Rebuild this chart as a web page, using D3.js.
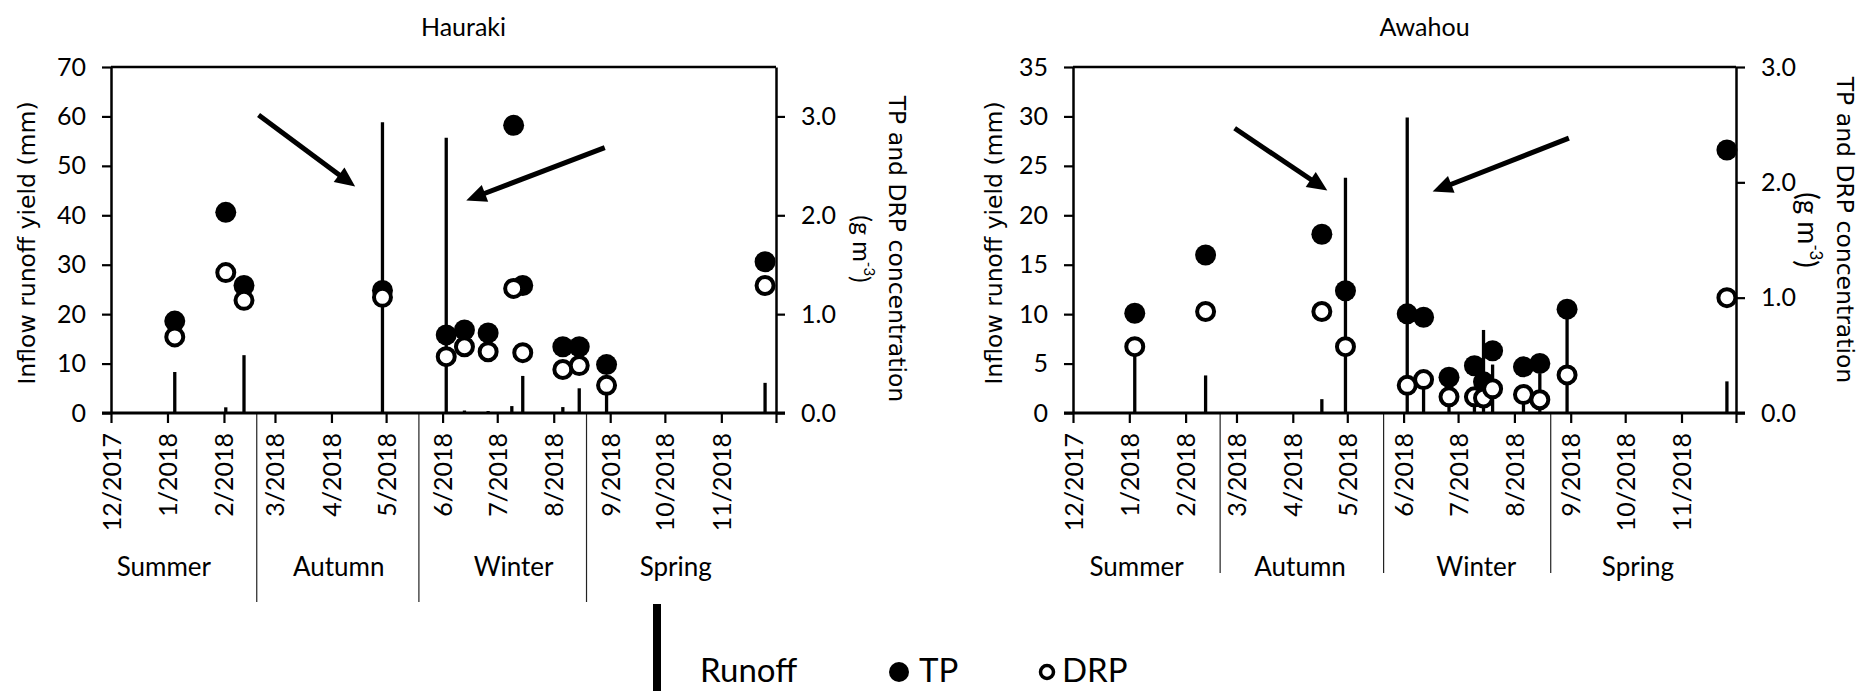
<!DOCTYPE html>
<html>
<head>
<meta charset="utf-8">
<script src="https://cdn.jsdelivr.net/npm/d3@7"></script>
<style>
  body { margin: 0; background: #fff; }
  svg { display: block; font-family: Lato, sans-serif; }
</style>
</head>
<body>
<svg id="chart" width="1863" height="691"></svg>
<script>
const parse = d3.timeParse("%Y-%m-%d")

const yearStart = "2017-12-01"
const yearEnd = "2018-12-01"
const seasons = ["Summer", "Autumn", "Winter", "Spring"]

// Hauraki
const haurakiSampleDates = ["2018-01-05", "2018-02-02", "2018-02-12", "2018-04-29", "2018-06-03", "2018-06-13", "2018-06-26", "2018-07-10", "2018-07-15", "2018-08-06", "2018-08-15", "2018-08-30", "2018-11-25"]
const haurakiTP = [0.93, 2.03, 1.29, 1.24, 0.79, 0.84, 0.81, 2.91, 1.29, 0.67, 0.67, 0.49, 1.53]
const haurakiDRP = [0.77, 1.42, 1.14, 1.17, 0.57, 0.67, 0.62, 1.26, 0.61, 0.44, 0.48, 0.28, 1.29]
const haurakiRunoffDates = ["2018-01-05", "2018-02-02", "2018-02-12", "2018-04-29", "2018-06-03", "2018-06-13", "2018-06-26", "2018-07-09", "2018-07-15", "2018-08-06", "2018-08-15", "2018-08-30", "2018-11-25"]
const haurakiRunoff = [8.3, 1.15, 11.7, 58.8, 55.7, 0.5, 0.4, 1.4, 7.5, 1.2, 5.0, 4.0, 6.1]
const haurakiSeasonBreaks = ["2018-02-19", "2018-05-19", "2018-08-19"]
const haurakiSeasonCentres = ["2017-12-30", "2018-04-05", "2018-07-10", "2018-10-07"]
// [start date, start mm, tip date, tip mm]
const haurakiArrows = [["2018-02-20", 60.3, "2018-04-14", 45.8], ["2018-08-29", 53.7, "2018-06-14", 43.0]]

// Awahou
const awahouSampleDates = ["2018-01-04", "2018-02-12", "2018-04-17", "2018-04-30", "2018-06-03", "2018-06-12", "2018-06-26", "2018-07-10", "2018-07-15", "2018-07-20", "2018-08-06", "2018-08-15", "2018-08-30", "2018-11-26"]
const awahouTP = [0.865, 1.37, 1.55, 1.06, 0.86, 0.83, 0.31, 0.41, 0.27, 0.54, 0.40, 0.43, 0.90, 2.28]
const awahouDRP = [0.575, 0.88, 0.88, 0.575, 0.24, 0.29, 0.14, 0.14, 0.13, 0.21, 0.16, 0.115, 0.33, 1.0]
const awahouRunoffDates = ["2018-01-04", "2018-02-12", "2018-04-17", "2018-04-30", "2018-06-03", "2018-06-12", "2018-06-26", "2018-07-10", "2018-07-15", "2018-07-20", "2018-08-06", "2018-08-15", "2018-08-30", "2018-11-26"]
const awahouRunoff = [6.5, 3.8, 1.4, 23.8, 29.9, 3.0, 1.5, 1.5, 8.4, 4.9, 1.8, 4.0, 10.5, 3.2]
const awahouSeasonBreaks = ["2018-02-20", "2018-05-21", "2018-08-21"]
const awahouSeasonCentres = ["2018-01-05", "2018-04-05", "2018-07-11", "2018-10-08"]
const awahouArrows = [["2018-02-28", 28.8, "2018-04-20", 22.5], ["2018-08-31", 27.8, "2018-06-17", 22.4]]

const plotTop = 67
const plotBottom = 413

const svg = d3.select("#chart")
svg.append("rect").attr("width", 1863).attr("height", 691).attr("fill", "#fff")

const drawPanel = cfg => {
  const g = svg.append("g").attr("class", cfg.name)

  const x = d3.scaleTime().domain([parse(yearStart), parse(yearEnd)]).range([cfg.left, cfg.right])
  const yL = d3.scaleLinear().domain([0, cfg.runoffMax]).range([plotBottom, plotTop])
  const yR = d3.scaleLinear().domain([0, cfg.concMax]).range([plotBottom, plotTop])

  // season dividers under the axis
  g.selectAll(".divider")
    .data(cfg.breaks.map(parse))
    .enter()
    .append("line")
    .attr("x1", d => x(d)).attr("x2", d => x(d))
    .attr("y1", plotBottom).attr("y2", cfg.dividerBottom)
    .attr("stroke", "#222").attr("stroke-width", 1.2)

  g.selectAll(".season")
    .data(seasons)
    .enter()
    .append("text")
    .attr("x", (d, i) => x(parse(cfg.seasonCentres[i])))
    .attr("y", 576)
    .attr("text-anchor", "middle")
    .attr("font-size", 26)
    .text(d => d)

  // runoff bars
  const runoff = cfg.runoffDates.map((d, i) => ({ date: parse(d), v: cfg.runoff[i] }))
  g.selectAll(".runoff")
    .data(runoff)
    .enter()
    .append("line")
    .attr("x1", d => x(d.date)).attr("x2", d => x(d.date))
    .attr("y1", yL(0)).attr("y2", d => yL(d.v))
    .attr("stroke", "#000").attr("stroke-width", 3.3)

  const samples = cfg.dates.map((d, i) => ({ date: parse(d), tp: cfg.tp[i], drp: cfg.drp[i] }))
  g.selectAll(".tp")
    .data(samples)
    .enter()
    .append("circle")
    .attr("cx", d => x(d.date)).attr("cy", d => yR(d.tp))
    .attr("r", 10.5).attr("fill", "#000")
  g.selectAll(".drp")
    .data(samples)
    .enter()
    .append("circle")
    .attr("cx", d => x(d.date)).attr("cy", d => yR(d.drp))
    .attr("r", 8.5).attr("fill", "#fff").attr("stroke", "#000").attr("stroke-width", 4)

  // arrows
  cfg.arrows.forEach(a => {
    const x1 = x(parse(a[0])), y1 = yL(a[1]), x2 = x(parse(a[2])), y2 = yL(a[3])
    const ang = Math.atan2(y2 - y1, x2 - x1)
    const len = 20, half = 9
    const bx = x2 - len * Math.cos(ang), by = y2 - len * Math.sin(ang)
    g.append("line")
      .attr("x1", x1).attr("y1", y1).attr("x2", bx + 2 * Math.cos(ang)).attr("y2", by + 2 * Math.sin(ang))
      .attr("stroke", "#000").attr("stroke-width", 5)
    g.append("path")
      .attr("d", `M${x2},${y2}L${bx - half * Math.sin(ang)},${by + half * Math.cos(ang)}L${bx + half * Math.sin(ang)},${by - half * Math.cos(ang)}Z`)
      .attr("fill", "#000")
  })

  // box top
  g.append("line")
    .attr("x1", cfg.left).attr("x2", cfg.right)
    .attr("y1", plotTop).attr("y2", plotTop)
    .attr("stroke", "#000").attr("stroke-width", 2.5)

  const styleAxis = (sel, width) => {
    sel.select(".domain").attr("stroke-width", width)
    sel.selectAll(".tick line").attr("stroke-width", 2.2)
    sel.selectAll("text").attr("font-family", "Lato, sans-serif").attr("font-size", 25).attr("fill", "#000")
  }

  const leftAxis = d3.axisLeft(yL).tickValues(cfg.runoffTicks).tickSize(9).tickSizeOuter(0).tickPadding(16)
  g.append("g").attr("transform", `translate(${cfg.left},0)`).call(leftAxis).call(s => styleAxis(s, 2.5))

  const rightAxis = d3.axisRight(yR).tickValues(cfg.concTicks).tickFormat(d3.format(".1f")).tickSize(9).tickSizeOuter(0).tickPadding(16)
  g.append("g").attr("transform", `translate(${cfg.right},0)`).call(rightAxis).call(s => styleAxis(s, 2.5))

  const months = d3.timeMonth.range(parse(yearStart), d3.timeDay.offset(parse(yearEnd), 1))
  const monthFmt = d => (+d >= +parse(yearEnd) ? "" : `${d.getMonth() + 1}/${d.getFullYear()}`)
  const bottomAxis = d3.axisBottom(x).tickValues(months).tickFormat(monthFmt).tickSize(10).tickSizeOuter(0)
  const xg = g.append("g").attr("transform", `translate(0,${plotBottom})`).call(bottomAxis).call(s => styleAxis(s, 3.2))
  xg.select(".domain").attr("d", `M${cfg.left - 9},0H${cfg.right + 9}`)
  xg.selectAll(".tick text")
    .attr("text-anchor", "end")
    .attr("transform", "translate(0,20) rotate(-90)")
    .attr("x", 0).attr("y", 0).attr("dy", "0.36em")

  // titles
  g.append("text")
    .attr("x", (cfg.left + cfg.right) / 2 + 20).attr("y", 36)
    .attr("text-anchor", "middle").attr("font-size", 25)
    .text(cfg.name)

  g.append("text")
    .attr("transform", `translate(${cfg.left - cfg.leftTitleOffset},243) rotate(-90)`)
    .attr("text-anchor", "middle").attr("dy", "0.36em")
    .attr("font-family", "DejaVu Sans, sans-serif").attr("font-size", 23.5)
    .text("Inflow runoff yield (mm)")

  g.append("text")
    .attr("transform", `translate(${cfg.right + cfg.rightTitleOffset},${cfg.rightTitleY}) rotate(90)`)
    .attr("text-anchor", "middle").attr("dy", "0.36em")
    .attr("font-family", "DejaVu Sans, sans-serif").attr("font-size", 23.5)
    .text("TP and DRP concentration")

  const unit = g.append("text")
    .attr("transform", `translate(${cfg.right + cfg.unitOffset},${cfg.rightTitleY}) rotate(90)`)
    .attr("text-anchor", "middle").attr("dy", "0.36em")
    .attr("font-size", cfg.unitSize)
  unit.append("tspan").text("(g m")
  unit.append("tspan").attr("font-size", cfg.unitSize * 0.6).attr("dy", "-0.7em").text("-3")
  unit.append("tspan").attr("dy", "0.45em").text(")")
}

drawPanel({
  name: "Hauraki", left: 111, right: 776,
  runoffMax: 70, runoffTicks: d3.range(0, 71, 10),
  concMax: 3.5, concTicks: [0, 1, 2, 3],
  dates: haurakiSampleDates, tp: haurakiTP, drp: haurakiDRP,
  runoffDates: haurakiRunoffDates, runoff: haurakiRunoff,
  breaks: haurakiSeasonBreaks, seasonCentres: haurakiSeasonCentres, dividerBottom: 602,
  arrows: haurakiArrows,
  leftTitleOffset: 84, rightTitleOffset: 121, unitOffset: 86, rightTitleY: 249, unitSize: 25
})

drawPanel({
  name: "Awahou", left: 1073, right: 1736,
  runoffMax: 35, runoffTicks: d3.range(0, 36, 5),
  concMax: 3.0, concTicks: [0, 1, 2, 3],
  dates: awahouSampleDates, tp: awahouTP, drp: awahouDRP,
  runoffDates: awahouRunoffDates, runoff: awahouRunoff,
  breaks: awahouSeasonBreaks, seasonCentres: awahouSeasonCentres, dividerBottom: 573,
  arrows: awahouArrows,
  leftTitleOffset: 79, rightTitleOffset: 109, unitOffset: 72, rightTitleY: 230, unitSize: 28
})

// legend
const legend = svg.append("g").attr("class", "legend")
legend.append("line")
  .attr("x1", 657).attr("x2", 657).attr("y1", 604).attr("y2", 691)
  .attr("stroke", "#000").attr("stroke-width", 8)
legend.append("text").attr("x", 700).attr("y", 682).attr("font-size", 33).text("Runoff")
legend.append("circle").attr("cx", 899).attr("cy", 672).attr("r", 10).attr("fill", "#000")
legend.append("text").attr("x", 919).attr("y", 682).attr("font-size", 33).text("TP")
legend.append("circle").attr("cx", 1047).attr("cy", 672).attr("r", 6.5).attr("fill", "#fff").attr("stroke", "#000").attr("stroke-width", 3.5)
legend.append("text").attr("x", 1062).attr("y", 682).attr("font-size", 33).text("DRP")
</script>
</body>
</html>
